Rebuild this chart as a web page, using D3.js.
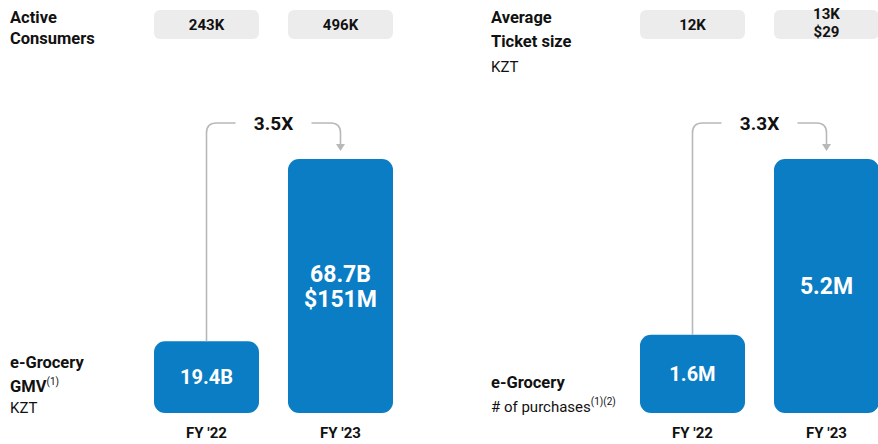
<!DOCTYPE html>
<html>
<head>
<meta charset="utf-8">
<script src="https://cdn.jsdelivr.net/npm/d3@7"></script>
<style>
  html, body { margin: 0; padding: 0; background: #fff; }
  svg { display: block; font-family: Roboto, "Noto Sans", Arial, sans-serif; }
</style>
</head>
<body>
<svg id="chart" width="878" height="444"></svg>
<script>
// Fiscal years shown in both panels
const categories = ["FY '22", "FY '23"];

// e-Grocery GMV, billions of KZT
const gmvValues = [19.4, 68.7];
const gmvLabels = [["19.4B"], ["68.7B", "$151M"]];
const gmvGrowth = "3.5X";

// e-Grocery number of purchases, millions
const purchaseValues = [1.6, 5.2];
const purchaseLabels = [["1.6M"], ["5.2M"]];
const purchaseGrowth = "3.3X";

// Header pills above each pair of bars
const activeConsumers = [["243K"], ["496K"]];
const ticketSize = [["12K"], ["13K", "$29"]];

const BLUE = "#0a7dc4";
const PILL = "#ececec";
const ARROW = "#b8b8b8";
const INK = "#111";

const svg = d3.select("#chart");

function panel(opts) {
  const g = svg.append("g");
  const x = d3.scaleBand().domain(categories).range(opts.xRange)
    .paddingInner(0.2164).paddingOuter(0);
  const y = d3.scaleLinear().domain([0, d3.max(opts.values)]).range([413, 159]);
  const bw = x.bandwidth();
  const data = categories.map((c, i) => ({ c, v: opts.values[i], lab: opts.labels[i], pill: opts.pills[i] }));

  // header title on the left
  const title = g.append("text").attr("x", opts.titleX).attr("fill", INK);
  opts.title.forEach((t, i) => {
    title.append("tspan").attr("x", opts.titleX).attr("y", opts.titleY[i])
      .attr("font-weight", t.bold ? 700 : 400)
      .attr("font-size", t.bold ? 16.5 : 15).text(t.text);
  });

  // grey pills with header values
  g.selectAll("rect.pill").data(data).join("rect").attr("class", "pill")
    .attr("x", d => x(d.c)).attr("y", 10).attr("width", bw).attr("height", 29)
    .attr("rx", 6).attr("fill", PILL);
  g.selectAll("text.pill").data(data).join("text").attr("class", "pill")
    .attr("text-anchor", "middle").attr("font-weight", 700).attr("font-size", 15)
    .attr("fill", INK)
    .each(function (d) {
      const t = d3.select(this);
      const n = d.pill.length;
      d.pill.forEach((s, i) => {
        t.append("tspan").attr("x", x(d.c) + bw / 2)
          .attr("y", n === 1 ? 30 : 19 + i * 18).text(s);
      });
    });

  // bars
  g.selectAll("rect.bar").data(data).join("rect").attr("class", "bar")
    .attr("x", d => x(d.c)).attr("y", d => y(d.v))
    .attr("width", bw).attr("height", d => y(0) - y(d.v))
    .attr("rx", 11).attr("fill", BLUE);

  // value labels inside bars
  g.selectAll("text.val").data(data).join("text").attr("class", "val")
    .attr("text-anchor", "middle").attr("font-weight", 700).attr("fill", "#fff")
    .attr("font-size", (d, i) => i === 0 ? 20 : 23)
    .each(function (d, i) {
      const t = d3.select(this);
      const cx = x(d.c) + bw / 2;
      const cy = (y(d.v) + y(0)) / 2;
      const lh = 25;
      const n = d.lab.length;
      const fs = i === 0 ? 20 : 23;
      d.lab.forEach((s, k) => {
        t.append("tspan").attr("x", cx)
          .attr("y", cy + (k - (n - 1) / 2) * lh + fs * 0.36).text(s);
      });
    });

  // category labels
  g.selectAll("text.cat").data(data).join("text").attr("class", "cat")
    .attr("x", d => x(d.c) + bw / 2).attr("y", 438)
    .attr("text-anchor", "middle").attr("font-weight", 700).attr("font-size", 15)
    .attr("fill", INK).text(d => d.c);

  // growth connector from first bar to second bar
  const x0 = x(categories[0]) + bw / 2;
  const x1 = x(categories[1]) + bw / 2;
  const top = 123, r = 10;
  const mid = (x0 + x1) / 2;
  const gap = 38;
  const tipY = y(opts.values[1]) - 8;
  g.append("path").attr("fill", "none").attr("stroke", ARROW).attr("stroke-width", 1.6)
    .attr("d", `M${x0},${y(opts.values[0])} L${x0},${top + r} Q${x0},${top} ${x0 + r},${top} L${mid - gap},${top}`);
  g.append("path").attr("fill", "none").attr("stroke", ARROW).attr("stroke-width", 1.6)
    .attr("d", `M${mid + gap},${top} L${x1 - r},${top} Q${x1},${top} ${x1},${top + r} L${x1},${tipY - 6}`);
  g.append("path").attr("fill", ARROW)
    .attr("d", `M${x1 - 4.5},${tipY - 7} L${x1 + 4.5},${tipY - 7} L${x1},${tipY} Z`);
  g.append("text").attr("x", mid).attr("y", top + 7).attr("text-anchor", "middle")
    .attr("font-weight", 700).attr("font-size", 19).attr("fill", INK).text(opts.growth);

  // bottom-left measure label
  const m = g.append("text").attr("fill", INK);
  opts.measure.forEach(line => {
    m.append("tspan").attr("x", opts.titleX).attr("y", line.y)
      .attr("font-weight", line.bold ? 700 : 400).attr("font-size", line.size).text(line.text);
    if (line.sup) {
      m.append("tspan").attr("dy", -7).attr("font-size", 10).attr("font-weight", 400).text(line.sup);
    }
  });
}

panel({
  xRange: [154, 393],
  values: gmvValues,
  labels: gmvLabels,
  pills: activeConsumers,
  growth: gmvGrowth,
  titleX: 10,
  title: [{ text: "Active", bold: true }, { text: "Consumers", bold: true }],
  titleY: [23, 44],
  measure: [
    { text: "e-Grocery", bold: true, size: 16.5, y: 368 },
    { text: "GMV", bold: true, size: 16.5, y: 392, sup: "(1)" },
    { text: "KZT", bold: false, size: 15, y: 413 }
  ]
});

panel({
  xRange: [640, 879],
  values: purchaseValues,
  labels: purchaseLabels,
  pills: ticketSize,
  growth: purchaseGrowth,
  titleX: 491,
  title: [{ text: "Average", bold: true }, { text: "Ticket size", bold: true }, { text: "KZT", bold: false }],
  titleY: [23, 47, 72],
  measure: [
    { text: "e-Grocery", bold: true, size: 16.5, y: 388 },
    { text: "# of purchases", bold: false, size: 15, y: 412, sup: "(1)(2)" }
  ]
});
</script>
</body>
</html>
